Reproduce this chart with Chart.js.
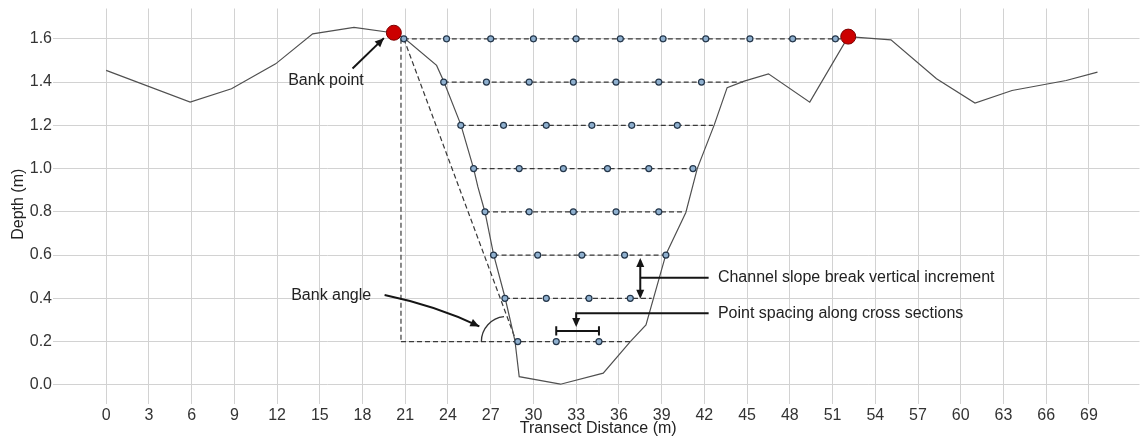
<!DOCTYPE html>
<html>
<head>
<meta charset="utf-8">
<script src="https://cdn.jsdelivr.net/npm/chart.js@4.4.1/dist/chart.umd.min.js"></script>
<style>
  html, body { margin: 0; padding: 0; background: #fff; }
  #wrap { width: 1148px; height: 438px; }
</style>
</head>
<body>
<div id="wrap"><canvas id="c" width="1148" height="438"></canvas></div>
<script>
// ground profile along the transect
const profileX = [0, 5.9, 8.8, 11.9, 14.5, 17.4, 20.1, 20.9, 23.2, 23.7, 24.9, 25.8, 26.1, 26.6, 27.2, 28.0, 28.7, 29.0, 31.9, 34.9, 36.8, 37.9, 39.3, 40.7, 41.5, 42.7, 43.6, 44.8, 46.5, 49.4, 52.1, 55.1, 58.3, 61.0, 63.6, 67.4, 69.6];
const profileY = [1.454, 1.307, 1.369, 1.484, 1.623, 1.653, 1.628, 1.605, 1.477, 1.404, 1.203, 1.0, 0.915, 0.798, 0.603, 0.405, 0.205, 0.038, 0.003, 0.054, 0.2, 0.277, 0.603, 0.797, 1.0, 1.203, 1.374, 1.404, 1.438, 1.307, 1.61, 1.595, 1.415, 1.303, 1.361, 1.407, 1.446];

// bank points (red)
const bankX = [20.2, 52.1];
const bankY = [1.628, 1.61];

// cross sections: depth level, where the dashed line starts / ends
const levels = [1.6, 1.4, 1.2, 1.0, 0.8, 0.6, 0.4, 0.2];
const lineStart = [20.9, 23.7, 24.9, 25.8, 26.6, 27.2, 28.0, 20.7];
const lineEnd = [52.0, 44.7, 42.6, 41.2, 40.65, 39.3, 38.3, 36.9];

// sample points along each cross section
const pts16 = [20.9, 23.9, 27.0, 30.0, 33.0, 36.1, 39.1, 42.1, 45.2, 48.2, 51.2];
const pts14 = [23.7, 26.7, 29.7, 32.8, 35.8, 38.8, 41.8];
const pts12 = [24.9, 27.9, 30.9, 34.1, 36.9, 40.1];
const pts10 = [25.8, 29.0, 32.1, 35.2, 38.1, 41.2];
const pts08 = [26.6, 29.7, 32.8, 35.8, 38.8];
const pts06 = [27.2, 30.3, 33.4, 36.4, 39.3];
const pts04 = [28.0, 30.9, 33.9, 36.8];
const pts02 = [28.9, 31.6, 34.6];
const sectionPts = [pts16, pts14, pts12, pts10, pts08, pts06, pts04, pts02];

// bank angle construction lines
const vertLineX = [20.7, 20.7];
const vertLineY = [1.6, 0.2];
const diagX = [20.9, 28.8];
const diagY = [1.6, 0.2];

// axis ticks
const xTicks = [0, 3, 6, 9, 12, 15, 18, 21, 24, 27, 30, 33, 36, 39, 42, 45, 48, 51, 54, 57, 60, 63, 66, 69];
const yTicks = [0.0, 0.2, 0.4, 0.6, 0.8, 1.0, 1.2, 1.4, 1.6];

const FONT = '"Liberation Sans", Arial, sans-serif';
Chart.defaults.font.family = FONT;

function xy(xs, ys) {
  return xs.map((x, i) => ({ x: x, y: ys[i] }));
}

const samples = [];
sectionPts.forEach((arr, i) => {
  arr.forEach(x => samples.push({ x: x, y: levels[i] }));
});

const dashStyle = {
  showLine: true,
  borderColor: '#3a3a3a',
  borderWidth: 1.2,
  borderDash: [5, 3],
  pointRadius: 0,
  fill: false
};

const datasets = [
  {
    data: xy(bankX, bankY),
    pointRadius: 7.5,
    pointBackgroundColor: '#cc0000',
    pointBorderColor: '#7a0000',
    pointBorderWidth: 1,
    showLine: false
  },
  {
    data: samples,
    pointRadius: 3,
    pointBackgroundColor: '#8fb0cf',
    pointBorderColor: '#24364a',
    pointBorderWidth: 1.2,
    showLine: false
  },
  {
    data: xy(profileX, profileY),
    showLine: true,
    borderColor: '#505050',
    borderWidth: 1.2,
    pointRadius: 0,
    tension: 0
  },
  Object.assign({ data: xy(vertLineX, vertLineY) }, dashStyle),
  Object.assign({ data: xy(diagX, diagY) }, dashStyle)
];
levels.forEach((lv, i) => {
  datasets.push(Object.assign({ data: [{ x: lineStart[i], y: lv }, { x: lineEnd[i], y: lv }] }, dashStyle));
});

// arrows, labels and the bank angle arc
function arrowHead(ctx, x0, y0, x1, y1) {
  const a = Math.atan2(y1 - y0, x1 - x0);
  const len = 9, w = 4;
  ctx.beginPath();
  ctx.moveTo(x1, y1);
  ctx.lineTo(x1 - len * Math.cos(a) + w * Math.sin(a), y1 - len * Math.sin(a) - w * Math.cos(a));
  ctx.lineTo(x1 - len * Math.cos(a) - w * Math.sin(a), y1 - len * Math.sin(a) + w * Math.cos(a));
  ctx.closePath();
  ctx.fill();
}

const notes = {
  id: 'notes',
  afterDraw(chart) {
    const ctx = chart.ctx;
    const sx = chart.scales.x, sy = chart.scales.y;
    const px = v => sx.getPixelForValue(v);
    const py = v => sy.getPixelForValue(v);

    ctx.save();
    ctx.strokeStyle = '#151515';
    ctx.fillStyle = '#151515';
    ctx.lineWidth = 2;

    // bank point arrow
    let x0 = px(17.3), y0 = py(1.463), x1 = px(19.5), y1 = py(1.603);
    ctx.beginPath(); ctx.moveTo(x0, y0); ctx.lineTo(x1, y1); ctx.stroke();
    arrowHead(ctx, x0, y0, x1, y1);

    // bank angle arrow (slightly curved)
    x0 = px(19.55); y0 = py(0.415); x1 = px(26.2); y1 = py(0.27);
    const cx = px(23.2), cy = py(0.365);
    ctx.beginPath(); ctx.moveTo(x0, y0); ctx.quadraticCurveTo(cx, cy, x1, y1); ctx.stroke();
    arrowHead(ctx, cx, cy, x1, y1);

    // bank angle arc
    ctx.lineWidth = 1.3;
    ctx.strokeStyle = '#333';
    ctx.beginPath();
    ctx.arc(px(28.1), py(0.2), 25, Math.PI, Math.PI * 1.47);
    ctx.stroke();

    // vertical increment double arrow + connector
    ctx.lineWidth = 2;
    ctx.strokeStyle = '#151515';
    const vx = px(37.5);
    ctx.beginPath(); ctx.moveTo(vx, py(0.575)); ctx.lineTo(vx, py(0.41)); ctx.stroke();
    arrowHead(ctx, vx, py(0.5), vx, py(0.587));
    arrowHead(ctx, vx, py(0.5), vx, py(0.398));
    ctx.beginPath(); ctx.moveTo(vx, py(0.495)); ctx.lineTo(px(42.3), py(0.495)); ctx.stroke();

    // point spacing leader + bracket
    ctx.beginPath();
    ctx.moveTo(px(42.3), py(0.331));
    ctx.lineTo(px(33.0), py(0.331));
    ctx.lineTo(px(33.0), py(0.28));
    ctx.stroke();
    arrowHead(ctx, px(33.0), py(0.32), px(33.0), py(0.268));
    ctx.beginPath();
    ctx.moveTo(px(31.6), py(0.249)); ctx.lineTo(px(34.6), py(0.249));
    ctx.moveTo(px(31.6), py(0.271)); ctx.lineTo(px(31.6), py(0.228));
    ctx.moveTo(px(34.6), py(0.271)); ctx.lineTo(px(34.6), py(0.228));
    ctx.stroke();

    // labels
    ctx.font = '16px ' + FONT;
    ctx.fillStyle = '#222';
    ctx.textBaseline = 'middle';
    ctx.textAlign = 'left';
    ctx.fillText('Bank point', px(12.78), py(1.407));
    ctx.fillText('Bank angle', px(12.99), py(0.415));
    ctx.fillText('Channel slope break vertical increment', px(42.95), py(0.495));
    ctx.fillText('Point spacing along cross sections', px(42.95), py(0.331));
    ctx.restore();
  }
};

new Chart(document.getElementById('c'), {
  type: 'scatter',
  data: { datasets: datasets },
  options: {
    responsive: false,
    animation: false,
    layout: { padding: { top: 8, right: 0, left: 0, bottom: 0 } },
    plugins: {
      legend: { display: false },
      tooltip: { enabled: false }
    },
    scales: {
      x: {
        type: 'linear',
        min: -3.45,
        max: 72.55,
        afterBuildTicks: s => { s.ticks = xTicks.map(v => ({ value: v })); },
        afterFit: s => { s.height = 38; s.paddingLeft = 0; s.paddingRight = 0; },
        grid: { color: '#d2d2d2', lineWidth: 1, tickLength: 4 },
        border: { display: false },
        ticks: { font: { size: 16 }, color: '#333', padding: 2, maxRotation: 0, autoSkip: false },
        title: { display: true, text: 'Transect Distance (m)', font: { size: 16 }, color: '#222', padding: { top: 0, bottom: 0 } }
      },
      y: {
        type: 'linear',
        min: -0.07,
        max: 1.74,
        afterBuildTicks: s => { s.ticks = yTicks.map(v => ({ value: v })); },
        afterFit: s => { s.width = 57; s.paddingTop = 0; s.paddingBottom = 0; },
        grid: { color: '#d2d2d2', lineWidth: 1, tickLength: 4 },
        border: { display: false },
        ticks: { font: { size: 16 }, color: '#333', padding: 1, autoSkip: false, callback: v => v.toFixed(1) },
        title: { display: true, text: 'Depth (m)', font: { size: 16 }, color: '#222', padding: { top: 9, bottom: 0 } }
      }
    }
  },
  plugins: [notes]
});
</script>
</body>
</html>
